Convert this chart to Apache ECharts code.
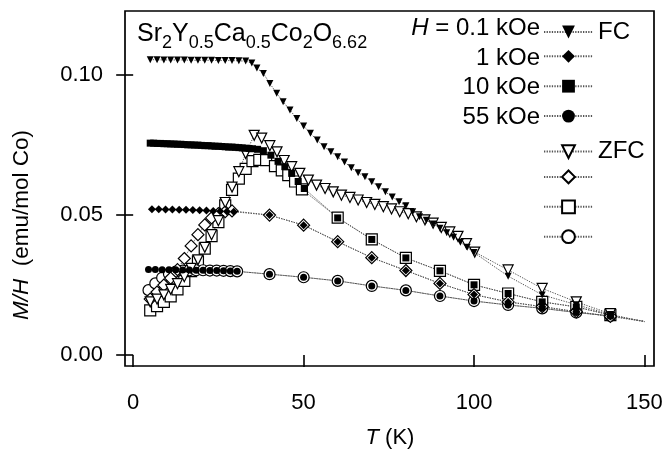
<!DOCTYPE html>
<html>
<head>
<meta charset="utf-8">
<script src="https://cdn.jsdelivr.net/npm/echarts@6/dist/echarts.min.js"></script>
<style>
  html, body { margin: 0; padding: 0; background: #fff; }
  #chart { width: 668px; height: 451px; }
</style>
</head>
<body>
<div id="chart"></div>
<script>
// Field-cooled (FC) magnetisation M/H (emu/mol Co) vs temperature T (K)
const fc01 = [[5,0.1055],[7,0.1055],[9,0.1054],[11,0.1054],[13,0.1054],[15,0.1054],[17,0.1053],[19,0.1053],[21,0.1053],[23,0.1053],[25,0.1052],[27,0.1052],[29,0.1052],[31,0.1051],[33,0.1050],
  [34.8,0.1043],[36.3,0.1025],[38.2,0.1006],[40.1,0.0970],[42.1,0.0935],[44,0.0905],[46,0.0875],[48,0.0845],[50,0.0818],[52,0.0792],[54,0.0768],[56,0.0744],[58,0.0726],[60,0.0708],
  [62,0.0690],[64,0.0669],[66,0.0651],[68,0.0637],[70,0.0619],[72,0.0601],[74,0.0583],[76,0.0565],[78,0.0548],[80,0.0533],[82,0.0512],[84,0.0494],[86,0.0482],[88,0.0468],
  [90,0.0453],[92,0.0437],[94,0.0421],[96,0.0403],[98,0.0385],[100,0.0366],[110,0.0282],[120,0.0215],[130,0.0180],[140,0.0145],[150,0.0119]];
const fc1 = [[5.5,0.0521],[7.5,0.0521],[9.5,0.0520],[11.5,0.0520],[13.5,0.0519],[15.5,0.0519],[17.5,0.0518],[19.5,0.0517],[21.5,0.0516],[23.5,0.0515],[25.5,0.0514],[27.5,0.0513],[29.5,0.0512],
  [40,0.0500],[50,0.0464],[60,0.0405],[70,0.0348],[80,0.0302],[90,0.0256],[100,0.0216],[110,0.0190],[120,0.0173],[130,0.0155],[140,0.0138],[150,0.0120]];
const fc10 = [[5,0.0757],[6,0.0757],[7,0.0756],[8,0.0756],[9,0.0755],[10,0.0755],[11,0.0754],[12,0.0754],[13,0.0753],[14,0.0753],[15,0.0752],[16,0.0751],[17,0.0751],[18,0.0750],
  [19,0.0750],[20,0.0749],[21,0.0748],[22,0.0748],[23,0.0747],[24,0.0746],[25,0.0746],[26,0.0745],[27,0.0744],[28,0.0743],[29,0.0743],[30,0.0742],[31,0.0741],[32,0.0740],
  [33,0.0739],[34,0.0738],[35,0.0737],[36.5,0.0735],[38.2,0.0730],[40.4,0.0714],[42.5,0.0692],[44.5,0.0673],[46.5,0.0649],[48.4,0.0620],[50.2,0.0595],
  [60,0.0490],[70,0.0413],[80,0.0347],[90,0.0301],[100,0.0251],[110,0.0220],[120,0.0190],[130,0.0172],[140,0.0143],[150,0.0120]];
const fc55 = [[4.5,0.0306],[6.5,0.0306],[8.5,0.0305],[10.5,0.0305],[12.5,0.0305],[14.5,0.0304],[16.5,0.0304],[18.5,0.0303],[20.5,0.0303],[22.5,0.0302],[24.5,0.0302],[26.5,0.0301],[28.5,0.0300],[30.5,0.0299],
  [40,0.0289],[50,0.0278],[60,0.0265],[70,0.0247],[80,0.0231],[90,0.0211],[100,0.0193],[110,0.0179],[120,0.0167],[130,0.0152],[140,0.0140],[150,0.0121]];

// Zero-field-cooled (ZFC) curves
const zfc01 = [[5,0.0190],[7,0.0200],[9,0.0215],[11,0.0235],[13,0.0255],[15,0.0280],[17,0.0310],[19,0.0340],[21,0.0385],[23,0.0430],[25,0.0480],[27,0.0545],[29,0.0600],[31,0.0655],[33,0.0720],
  [35.5,0.0785],[37.7,0.0775],[40.1,0.0748],[42.2,0.0726],[44.3,0.0695],[46.5,0.0673],[48.9,0.0649],[51.4,0.0625],[53.8,0.0607],[56.3,0.0595],[58.7,0.0583],[61.1,0.0571],
  [63.6,0.0563],[66,0.0554],[68.5,0.0545],[70.9,0.0538],[73.4,0.0530],[75.8,0.0522],[78.2,0.0512],[80.7,0.0505],[83.1,0.0494],[85.6,0.0483],[88,0.0471],[90.4,0.0456],
  [92.9,0.0440],[95.3,0.0424],[97.8,0.0398],[100.2,0.0368],[110,0.0304],[120,0.0238],[130,0.0190],[140,0.0148]];
const zfc1 = [[5,0.0200],[7,0.0225],[9,0.0250],[11,0.0275],[13,0.0305],[15,0.0345],[17,0.0390],[19,0.0430],[21,0.0465],[23,0.0490],[25,0.0505],[27,0.0512],[29,0.0515],
  [40,0.0500],[50,0.0464],[60,0.0405],[70,0.0348],[80,0.0302],[90,0.0256],[100,0.0216],[110,0.0190],[120,0.0173],[130,0.0155],[140,0.0138]];
const zfc10 = [[5,0.0160],[7,0.0175],[9,0.0190],[11,0.0210],[13,0.0235],[15,0.0265],[17,0.0300],[19,0.0335],[21,0.0380],[23,0.0425],[25,0.0475],[27,0.0535],[29,0.0590],[31,0.0630],
  [33,0.0665],[35,0.0693],[37,0.0697],[39,0.0696],[41.6,0.0675],[43.6,0.0660],[45.5,0.0643],[47.5,0.0620],[49.5,0.0592],
  [60,0.0491],[70,0.0413],[80,0.0347],[90,0.0301],[100,0.0251],[110,0.0220],[120,0.0190],[130,0.0172],[140,0.0143]];
const zfc55 = [[4.5,0.0232],[6.5,0.0256],[8.5,0.0276],[10.5,0.0290],[12.5,0.0298],[14.5,0.0302],[16.5,0.0303],[18.5,0.0303],[20.5,0.0303],[22.5,0.0302],[24.5,0.0302],[26.5,0.0301],[28.5,0.0300],[30.5,0.0299],
  [40,0.0289],[50,0.0278],[60,0.0265],[70,0.0247],[80,0.0231],[90,0.0211],[100,0.0193],[110,0.0179],[120,0.0167],[130,0.0152],[140,0.0140]];

const xTicks = [0, 50, 100, 150];
const yTicks = [0, 0.05, 0.10];
const fieldLabels = ['0.1 kOe', '1 kOe', '10 kOe', '55 kOe'];
const legendOrder = ['FC 0.1', 'FC 1', 'FC 10', 'FC 55', 'ZFC 0.1', 'ZFC 1', 'ZFC 10', 'ZFC 55'];
const legendText = { 'FC 0.1': 'FC', 'ZFC 0.1': 'ZFC' };
// Chemical formula: [text, isSubscript]
const formula = [['Sr', false], ['2', true], ['Y', false], ['0.5', true], ['Ca', false], ['0.5', true], ['Co', false], ['2', true], ['O', false], ['6.62', true]];

const FONT = '"Liberation Sans", Arial, Helvetica, sans-serif';
const FS = 22;
const LEGEND_FS = 24;

// Points at the upper end of the range only carry the connecting line
function toData(points) {
  return points.map(p => p[0] >= 150 ? { value: p, symbol: 'none' } : p);
}

function curve(name, points, symbol, size, filled, rotate) {
  return {
    type: 'line',
    name: name,
    data: toData(points),
    symbol: symbol,
    symbolSize: size,
    symbolRotate: rotate || 0,
    showSymbol: true,
    showAllSymbol: true,
    clip: false,
    lineStyle: { color: '#555', width: 1, type: [1.3, 1.3] },
    itemStyle: filled
      ? { color: '#000', borderColor: '#000', borderWidth: 0 }
      : { color: '#fff', borderColor: '#000', borderWidth: 1.2 },
    emphasis: { disabled: true },
    animation: false
  };
}

// ZFC drawn first so the FC markers sit on top of them
const series = [
  curve('ZFC 10', zfc10, 'rect', 11, false),
  curve('ZFC 55', zfc55, 'circle', 11, false),
  curve('ZFC 1', zfc1, 'diamond', 12, false),
  curve('ZFC 0.1', zfc01, 'triangle', 10, false, 180),
  curve('FC 55', fc55, 'circle', 7, true),
  curve('FC 10', fc10, 'rect', 7, true),
  curve('FC 1', fc1, 'diamond', 8, true),
  curve('FC 0.1', fc01, 'triangle', 7, true, 180)
];

// Formula laid out piece by piece so the subscripts drop below the baseline
const measureCtx = document.createElement('canvas').getContext('2d');
function textWidth(t, size) {
  measureCtx.font = size + 'px ' + FONT;
  return measureCtx.measureText(t).width;
}
const formulaGraphics = [];
(function () {
  let x = 137;
  const baseSize = 25, subSize = 18, yBase = 34, ySub = 43;
  formula.forEach(([t, sub]) => {
    const size = sub ? subSize : baseSize;
    formulaGraphics.push({
      type: 'text', x: x, y: sub ? ySub : yBase, silent: true,
      style: { text: t, fill: '#000', font: size + 'px ' + FONT, align: 'left', verticalAlign: 'middle' }
    });
    x += textWidth(t, size);
  });
})();

// One legend row per entry, evenly spaced
const ROW0 = 28, ROW_STEP = 29.9, ICON_H = 16;
const legends = legendOrder.map((name, i) => ({
  orient: 'vertical',
  left: 543, top: ROW0 + i * ROW_STEP - ICON_H / 2,
  padding: 0,
  itemWidth: 49, itemHeight: ICON_H,
  selectedMode: false,
  data: [name],
  formatter: n => legendText[n] || '',
  textStyle: { fontSize: LEGEND_FS, color: '#000', fontFamily: FONT, lineHeight: ICON_H }
}));

const chart = echarts.init(document.getElementById('chart'), null, { renderer: 'canvas' });

chart.setOption({
  backgroundColor: '#fff',
  animation: false,
  textStyle: { fontFamily: FONT },
  grid: {
    left: 125, right: 14, top: 11, bottom: 85,
    show: true, borderColor: '#000', borderWidth: 1.7, backgroundColor: 'transparent'
  },
  xAxis: {
    type: 'value',
    min: -2.4, max: 152.8,
    offset: 4,
    axisLine: { show: false },
    axisTick: { show: true, inside: false, length: 12, lineStyle: { color: '#000', width: 1.6 }, customValues: xTicks },
    axisLabel: { show: true, margin: 22, fontSize: FS, color: '#000', fontFamily: FONT, customValues: xTicks, formatter: v => String(v) },
    splitLine: { show: false }
  },
  yAxis: {
    type: 'value',
    min: -0.0039, max: 0.1229,
    axisLine: { show: false },
    axisTick: { show: true, inside: false, length: 17, lineStyle: { color: '#000', width: 1.6 }, customValues: yTicks },
    axisLabel: { show: true, margin: 22, fontSize: FS, color: '#000', fontFamily: FONT, customValues: yTicks, formatter: v => v.toFixed(2) },
    splitLine: { show: false }
  },
  legend: legends,
  graphic: [
    ...formulaGraphics,
    ...fieldLabels.map((f, i) => ({
      type: 'text', x: 540, y: ROW0 + i * ROW_STEP, silent: true,
      style: {
        text: i === 0 ? '{i|H} = ' + f : f,
        align: 'right', verticalAlign: 'middle', fill: '#000',
        font: LEGEND_FS + 'px ' + FONT,
        rich: { i: { fontStyle: 'italic', fontSize: LEGEND_FS, fontFamily: FONT, fill: '#000' } }
      }
    })),
    {
      type: 'text', x: 390, y: 438, silent: true,
      style: {
        text: '{i|T} (K)', align: 'center', verticalAlign: 'middle', fill: '#000',
        font: FS + 'px ' + FONT,
        rich: { i: { fontStyle: 'italic', fontSize: FS, fontFamily: FONT, fill: '#000' } }
      }
    },
    {
      type: 'text', x: 22, y: 225, rotation: Math.PI / 2, silent: true,
      style: {
        text: '{i|M/H}  (emu/mol Co)', align: 'center', verticalAlign: 'middle', fill: '#000',
        font: '22.5px ' + FONT,
        rich: { i: { fontStyle: 'italic', fontSize: 22.5, fontFamily: FONT, fill: '#000' } }
      }
    }
  ],
  series: series
});
</script>
</body>
</html>
